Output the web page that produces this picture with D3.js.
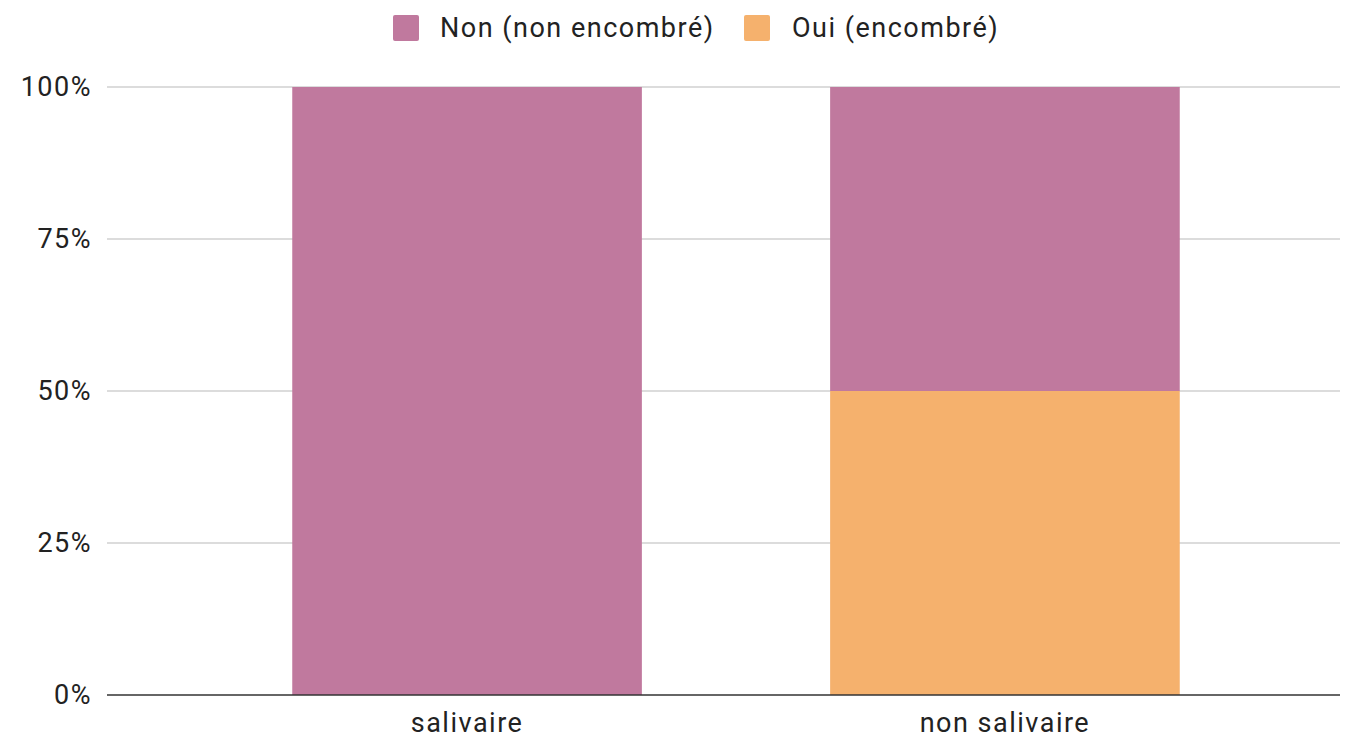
<!DOCTYPE html>
<html>
<head>
<meta charset="utf-8">
<script src="https://cdn.jsdelivr.net/npm/d3@7"></script>
<style>
  body { margin: 0; background: #fff; }
  text { font-family: Roboto, "Liberation Sans", Arial, sans-serif; fill: #222; }
</style>
</head>
<body>
<div id="chart"></div>
<script>
var categories = ["salivaire", "non salivaire"]
var nonValues = [100, 50]   // Non (non encombré)
var ouiValues = [0, 50]     // Oui (encombré)
var seriesNames = ["Non (non encombré)", "Oui (encombré)"]
var yTicks = [0, 25, 50, 75, 100]

var width = 1355, height = 738
var colors = {"Non (non encombré)": "#c0799e", "Oui (encombré)": "#f5b16d"}

var svg = d3.select('#chart').append('svg')
  .attr('width', width)
  .attr('height', height)

var x = d3.scaleBand()
  .domain(categories)
  .range([104, 1368])
  .padding(0.35)

var y = d3.scaleLinear()
  .domain([0, 100])
  .range([695, 87])

// gridlines
svg.append('g')
  .selectAll('line')
  .data(yTicks.filter(d => d > 0))
  .enter()
  .append('line')
  .attr('x1', 107)
  .attr('x2', 1340)
  .attr('y1', d => y(d))
  .attr('y2', d => y(d))
  .attr('stroke', '#d0d0d0')
  .attr('stroke-width', 1.5)

// y labels
svg.append('g')
  .selectAll('text')
  .data(yTicks)
  .enter()
  .append('text')
  .attr('x', 92)
  .attr('y', d => y(d))
  .attr('dy', '0.35em')
  .attr('text-anchor', 'end')
  .style('font-size', '27px')
  .style('letter-spacing', '1.5px')
  .text(d => d + '%')

// stacked data, Oui at the bottom
var table = categories.map(function(c, i){
  return {cat: c, "Oui (encombré)": ouiValues[i], "Non (non encombré)": nonValues[i]}
})
var stack = d3.stack().keys(["Oui (encombré)", "Non (non encombré)"])
var layers = stack(table)

svg.append('g')
  .selectAll('g')
  .data(layers)
  .enter()
  .append('g')
  .attr('fill', d => colors[d.key])
  .selectAll('rect')
  .data(d => d)
  .enter()
  .append('rect')
  .attr('x', d => x(d.data.cat))
  .attr('width', x.bandwidth())
  .attr('y', d => y(d[1]))
  .attr('height', d => y(d[0]) - y(d[1]))

// baseline
svg.append('line')
  .attr('x1', 107)
  .attr('x2', 1340)
  .attr('y1', y(0))
  .attr('y2', y(0))
  .attr('stroke', '#333')
  .attr('stroke-width', 1.5)

// category labels
svg.append('g')
  .selectAll('text')
  .data(categories)
  .enter()
  .append('text')
  .attr('x', d => x(d) + x.bandwidth() / 2)
  .attr('y', 723)
  .attr('dy', '0.35em')
  .attr('text-anchor', 'middle')
  .style('font-size', '27px')
  .style('letter-spacing', '1.5px')
  .text(d => d)

// legend
var legendPos = [{x: 393, tx: 440}, {x: 744, tx: 792}]
var legend = svg.append('g')
  .selectAll('g')
  .data(seriesNames)
  .enter()
  .append('g')
legend.append('rect')
  .attr('x', (d, i) => legendPos[i].x)
  .attr('y', 15)
  .attr('width', 26)
  .attr('height', 26)
  .attr('rx', 2)
  .attr('fill', d => colors[d])
legend.append('text')
  .attr('x', (d, i) => legendPos[i].tx)
  .attr('y', 28)
  .attr('dy', '0.35em')
  .style('font-size', '27px')
  .style('letter-spacing', '1.5px')
  .text(d => d)
</script>
</body>
</html>
